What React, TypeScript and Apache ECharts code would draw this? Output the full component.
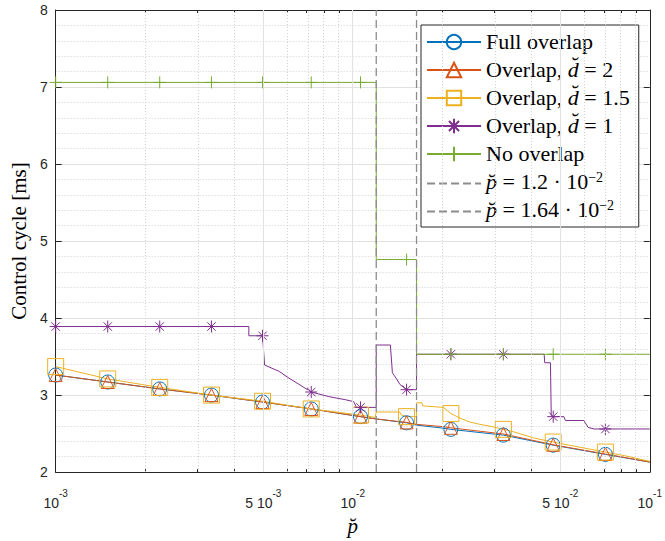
import React, { useEffect, useRef } from 'react';
import * as echarts from 'echarts';

// ---------- axis setup ----------
const xMinP = 0.001;
const xMaxP = 0.1;
const yMin = 2;
const yMax = 8;
const xTickValues = [0.001, 0.005, 0.01, 0.05, 0.1];
const xTickLabels = ['{b|10}{s|-3}', '{b|5 10}{s|-3}', '{b|10}{s|-2}', '{b|5 10}{s|-2}', '{b|10}{s|-1}'];
const xMinorMultipliers = [2, 3, 4, 6, 7, 8, 9];
const xMinorDecades = [0.001, 0.01];

// ---------- marker positions (p) ----------
const markerP = [0.001, 0.001497, 0.00224, 0.003345, 0.00497, 0.00725, 0.01062, 0.01518, 0.0214, 0.03215, 0.0473, 0.0709];

// ---------- series: Full overlap ----------
const fullP = [0.001, 0.001497, 0.00224, 0.003345, 0.00497, 0.00725, 0.01062, 0.012, 0.01518, 0.0164, 0.0202, 0.0214, 0.03215, 0.0473, 0.0709, 0.1];
const fullY = [3.26, 3.17, 3.08, 3.0, 2.91, 2.82, 2.72, 2.69, 2.64, 2.61, 2.57, 2.555, 2.48, 2.35, 2.23, 2.13];

// ---------- series: Overlap d=2 ----------
const d2P = [0.001, 0.001497, 0.00224, 0.003345, 0.00497, 0.00725, 0.01062, 0.012, 0.01518, 0.0164, 0.0202, 0.0214, 0.03215, 0.0473, 0.0709, 0.1];
const d2Y = [3.26, 3.17, 3.08, 3.0, 2.91, 2.82, 2.72, 2.69, 2.645, 2.62, 2.59, 2.575, 2.495, 2.355, 2.235, 2.13];

// ---------- series: Overlap d=1.5 ----------
const d15P = [0.001, 0.001497, 0.00224, 0.003345, 0.00497, 0.00725, 0.01062, 0.0119, 0.012, 0.0144, 0.0146, 0.01518, 0.0164, 0.0164, 0.0171, 0.0172, 0.0202, 0.0214, 0.023, 0.0248, 0.0268, 0.0295, 0.03215, 0.035, 0.041, 0.0473, 0.056, 0.0709, 0.083, 0.1];
const d15Y = [3.37, 3.21, 3.1, 3.0, 2.92, 2.82, 2.74, 2.71, 2.78, 2.78, 2.74, 2.72, 2.72, 2.9, 2.9, 2.86, 2.84, 2.76, 2.7, 2.65, 2.62, 2.59, 2.555, 2.52, 2.44, 2.39, 2.335, 2.26, 2.21, 2.14];

// ---------- series: Overlap d=1 ----------
const d1P = [0.001, 0.001497, 0.00224, 0.003345, 0.00447, 0.00447, 0.00497, 0.00505, 0.00564, 0.0061, 0.00659, 0.00725, 0.00831, 0.00945, 0.01008, 0.01029, 0.01062, 0.012, 0.012, 0.01339, 0.0136, 0.0141, 0.0144, 0.01518, 0.0164, 0.0164, 0.0214, 0.03215, 0.0441, 0.0443, 0.0463, 0.0466, 0.0473, 0.0514, 0.052, 0.06, 0.062, 0.065, 0.0709, 0.1];
const d1Y = [3.89, 3.89, 3.89, 3.89, 3.89, 3.77, 3.77, 3.39, 3.31, 3.22, 3.14, 3.04, 2.98, 2.94, 2.915, 2.84, 2.84, 2.84, 3.65, 3.65, 3.29, 3.2, 3.14, 3.07, 3.07, 3.53, 3.53, 3.53, 3.53, 3.42, 3.42, 2.73, 2.72, 2.72, 2.67, 2.67, 2.58, 2.56, 2.56, 2.56];

// ---------- series: No overlap ----------
const noP = [0.001, 0.001497, 0.00224, 0.003345, 0.00497, 0.00725, 0.01062, 0.012, 0.012, 0.01518, 0.0164, 0.0164, 0.0214, 0.03215, 0.0473, 0.0709, 0.1];
const noY = [7.06, 7.06, 7.06, 7.06, 7.06, 7.06, 7.06, 7.06, 4.76, 4.76, 4.76, 3.53, 3.53, 3.53, 3.53, 3.53, 3.53];

// ---------- thresholds ----------
const thresholdP = [0.012, 0.0164];

const COLORS = ['#0072BD', '#D95319', '#EDB120', '#7E2F8E', '#77AC30', '#8c8c8c'];
const SERIF = '"Liberation Serif", "DejaVu Serif", serif';
const SANS = '"Liberation Sans", Arial, Helvetica, sans-serif';
const AXIS_COLOR = '#262626';

const NAMES = ['Full overlap', 'Overlap d2', 'Overlap d1.5', 'Overlap d1', 'No overlap', 'p1', 'p2'];
const LEGEND_TEXT: Record<string, string> = {
  'Full overlap': '{n|Full overlap}',
  'Overlap d2': '{n|Overlap, }{i|d\u0306}{n| = 2}',
  'Overlap d1.5': '{n|Overlap, }{i|d\u0306}{n| = 1.5}',
  'Overlap d1': '{n|Overlap, }{i|d\u0306}{n| = 1}',
  'No overlap': '{n|No overlap}',
  'p1': '{pi|p\u0306}{pn| = 1.2 \u00b7 10}{s|\u22122}',
  'p2': '{pi|p\u0306}{pn| = 1.64 \u00b7 10}{s|\u22122}',
};

const ASTERISK = 'path://M0,-10L0,10M-10,0L10,0M-7,-7L7,7M-7,7L7,-7';
const PLUS = 'path://M0,-10L0,10M-10,0L10,0';

function buildData(ps: number[], ys: number[]) {
  return ps.map((p, i) => {
    const isMarker = markerP.some((m) => Math.abs(m - p) < 1e-9);
    const prevSame = i > 0 && Math.abs(ps[i - 1] - p) < 1e-12;
    return isMarker && !prevSame
      ? { value: [Math.log10(p), ys[i]] }
      : { value: [Math.log10(p), ys[i]], symbol: 'none' };
  });
}

function dataSeries(name: string, ps: number[], ys: number[], color: string, symbol: string, symbolSize: number) {
  return {
    name,
    type: 'line',
    xAxisIndex: 0,
    yAxisIndex: 0,
    data: buildData(ps, ys),
    symbol,
    symbolSize,
    showSymbol: true,
    z: 3,
    lineStyle: { color, width: 1 },
    itemStyle: { color: 'rgba(0,0,0,0)', borderColor: color, borderWidth: 1 },
    emphasis: { disabled: true },
  };
}

function buildOption() {
  const lx = (p: number) => Math.log10(p);
  const majorX = xTickValues.map(lx);
  const minorX: number[] = [];
  xMinorDecades.forEach((d) => xMinorMultipliers.forEach((m) => minorX.push(lx(m * d))));

  const gridLines = [
    ...majorX.slice(1, -1).map((v) => ({ xAxis: v, lineStyle: { color: '#e1e1e1', width: 1, type: 'solid' } })),
    ...minorX.map((v) => ({ xAxis: v, lineStyle: { color: '#cfcfcf', width: 1, type: [1, 2] } })),
  ];

  const xLabelFormatter = (v: number) => {
    const idx = majorX.findIndex((t) => Math.abs(t - v) < 1e-6);
    return idx >= 0 ? xTickLabels[idx] : '';
  };

  const baseX = {
    type: 'value',
    min: lx(xMinP),
    max: lx(xMaxP),
    splitLine: { show: false },
    axisPointer: { show: false },
  };

  const legendData = NAMES.map((n, i) =>
    i >= 5 ? { name: n, itemStyle: { opacity: 0 } } : { name: n }
  );

  return {
    animation: false,
    backgroundColor: '#ffffff',
    grid: { left: 54, right: 15, top: 10, bottom: 60, containLabel: false },
    xAxis: [
      {
        ...baseX,
        position: 'bottom',
        name: 'p\u0306',
        nameLocation: 'middle',
        nameGap: 39,
        nameTextStyle: { fontFamily: SERIF, fontStyle: 'italic', fontSize: 21, color: '#000' },
        axisLine: { show: true, lineStyle: { color: AXIS_COLOR, width: 1 } },
        axisTick: { show: true, inside: true, length: 6, customValues: majorX, lineStyle: { color: AXIS_COLOR } },
        axisLabel: {
          show: true,
          customValues: majorX,
          margin: 16,
          formatter: xLabelFormatter,
          color: AXIS_COLOR,
          rich: {
            b: { fontFamily: SANS, fontSize: 14, lineHeight: 22, verticalAlign: 'bottom', color: AXIS_COLOR },
            s: { fontFamily: SANS, fontSize: 10, lineHeight: 12, verticalAlign: 'top', color: AXIS_COLOR },
          },
        },
      },
      {
        ...baseX,
        position: 'bottom',
        axisLine: { show: false },
        axisTick: { show: true, inside: true, length: 3, customValues: minorX, lineStyle: { color: AXIS_COLOR } },
        axisLabel: { show: false },
      },
      {
        ...baseX,
        position: 'top',
        axisLine: { show: true, lineStyle: { color: AXIS_COLOR, width: 1 } },
        axisTick: { show: true, inside: true, length: 6, customValues: majorX, lineStyle: { color: AXIS_COLOR } },
        axisLabel: { show: false },
      },
      {
        ...baseX,
        position: 'top',
        axisLine: { show: false },
        axisTick: { show: true, inside: true, length: 3, customValues: minorX, lineStyle: { color: AXIS_COLOR } },
        axisLabel: { show: false },
      },
    ],
    yAxis: [
      {
        type: 'value',
        min: yMin,
        max: yMax,
        interval: 1,
        position: 'left',
        name: 'Control cycle [ms]',
        nameLocation: 'middle',
        nameGap: 25,
        nameTextStyle: { fontFamily: SERIF, fontSize: 21, color: '#000' },
        axisLine: { show: true, lineStyle: { color: AXIS_COLOR, width: 1 } },
        axisTick: { show: true, inside: true, length: 6, lineStyle: { color: AXIS_COLOR } },
        axisLabel: { fontFamily: SANS, fontSize: 14, color: AXIS_COLOR, margin: 8 },
        splitLine: { show: true, lineStyle: { color: '#e1e1e1', width: 1 } },
        minorTick: { show: false, splitNumber: 5 },
        minorSplitLine: { show: true, lineStyle: { color: '#cfcfcf', width: 1, type: [1, 2] } },
      },
      {
        type: 'value',
        min: yMin,
        max: yMax,
        interval: 1,
        position: 'right',
        axisLine: { show: true, lineStyle: { color: AXIS_COLOR, width: 1 } },
        axisTick: { show: true, inside: true, length: 6, lineStyle: { color: AXIS_COLOR } },
        axisLabel: { show: false },
        splitLine: { show: false },
      },
    ],
    legend: {
      data: legendData,
      orient: 'vertical',
      left: 421,
      top: 25,
      itemWidth: 54,
      itemHeight: 18,
      itemGap: 6,
      padding: [5, 9, 7, 5],
      backgroundColor: '#ffffff',
      borderColor: AXIS_COLOR,
      borderWidth: 1,
      borderRadius: 0,
      selectedMode: false,
      formatter: (name: string) => LEGEND_TEXT[name] || name,
      textStyle: {
        fontFamily: SERIF,
        fontSize: 22,
        color: '#000',
        rich: {
          n: { fontFamily: SERIF, fontSize: 22, lineHeight: 20, verticalAlign: 'bottom', color: '#000' },
          i: { fontFamily: SERIF, fontStyle: 'italic', fontSize: 22, lineHeight: 20, verticalAlign: 'bottom', color: '#000' },
          pn: { fontFamily: SERIF, fontSize: 22, lineHeight: 17, verticalAlign: 'bottom', color: '#000' },
          pi: { fontFamily: SERIF, fontStyle: 'italic', fontSize: 22, lineHeight: 17, verticalAlign: 'bottom', color: '#000' },
          s: { fontFamily: SERIF, fontSize: 14, lineHeight: 2, verticalAlign: 'bottom', padding: [0, 0, 8, 0], color: '#000' },
        },
      },
    },
    series: [
      {
        name: 'grid',
        type: 'line',
        data: [[lx(xMinP), yMin]],
        symbol: 'none',
        z: 1,
        lineStyle: { width: 0 },
        silent: true,
        markLine: {
          silent: true,
          symbol: ['none', 'none'],
          label: { show: false },
          emphasis: { disabled: true },
          data: gridLines,
        },
      },
      dataSeries('Full overlap', fullP, fullY, COLORS[0], 'circle', 14),
      dataSeries('Overlap d2', d2P, d2Y, COLORS[1], 'triangle', 13),
      dataSeries('Overlap d1.5', d15P, d15Y, COLORS[2], 'rect', 16),
      dataSeries('Overlap d1', d1P, d1Y, COLORS[3], ASTERISK, 12),
      dataSeries('No overlap', noP, noY, COLORS[4], PLUS, 12),
      ...thresholdP.map((p, i) => ({
        name: NAMES[5 + i],
        type: 'line',
        data: [[lx(p), yMin], [lx(p), yMax]],
        symbol: 'none',
        z: 4,
        lineStyle: { color: COLORS[5], width: 1.3, type: [8, 4] },
        itemStyle: { color: COLORS[5] },
        emphasis: { disabled: true },
      })),
    ],
  };
}

export default function App() {
  const ref = useRef<HTMLDivElement>(null);
  useEffect(() => {
    if (!ref.current) return;
    const chart = echarts.init(ref.current, null, { renderer: 'svg' });
    chart.setOption(buildOption() as any);
    return () => chart.dispose();
  }, []);
  return (
    <div
      ref={ref}
      style={{ position: 'fixed', left: 0, top: 0, width: 665, height: 541, background: '#fff' }}
    />
  );
}
